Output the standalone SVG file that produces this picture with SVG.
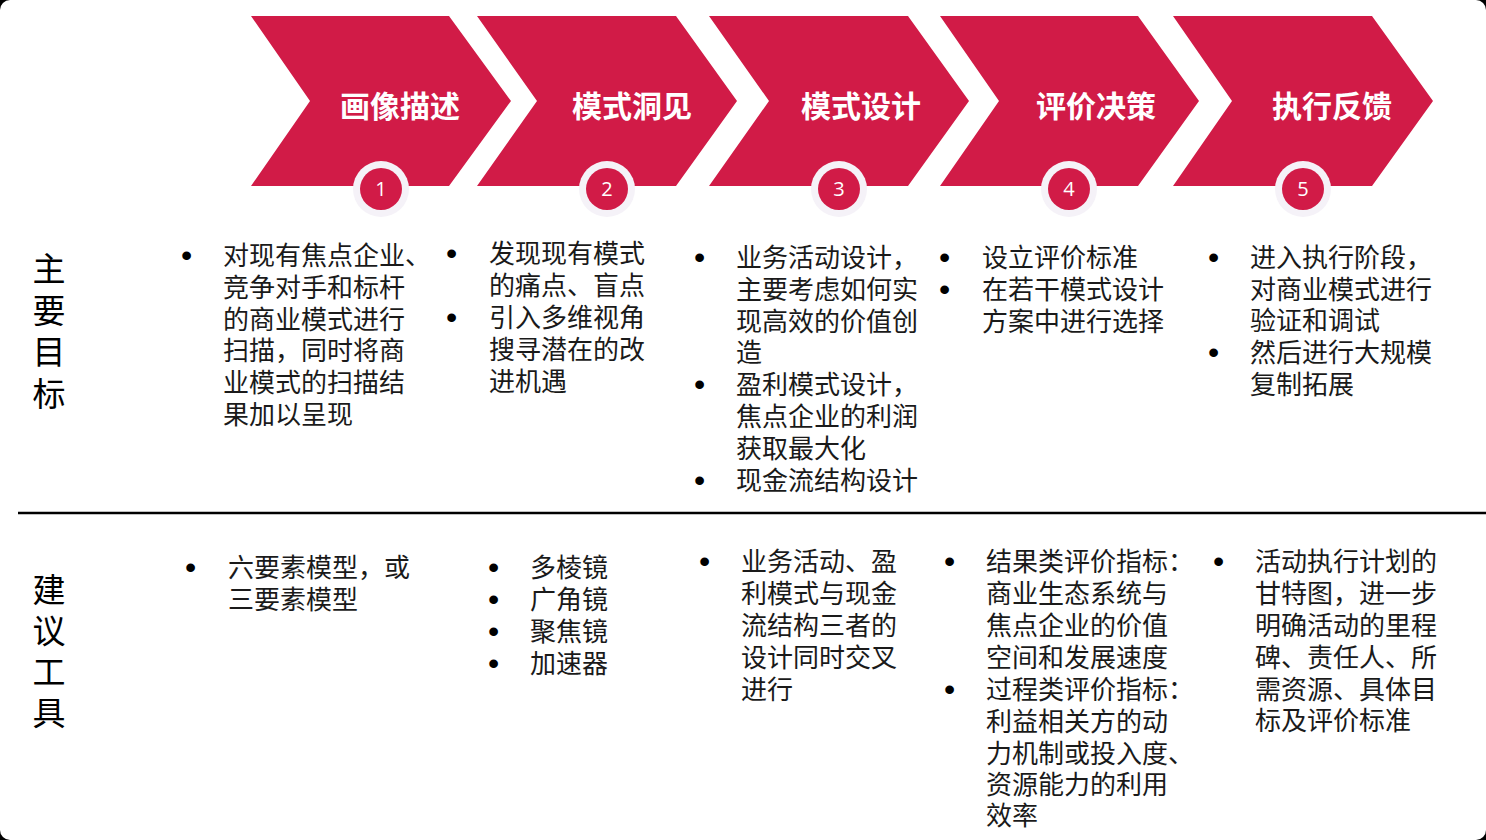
<svg xmlns="http://www.w3.org/2000/svg" width="1486" height="840" viewBox="0 0 1486 840">
<style>
.chev{fill:#D11B47}
.ring{fill:#F5F2F8}
.dot{fill:#D11B47}
.num{font-family:"Open Sans","Liberation Sans",sans-serif;font-size:20px;fill:#fff;text-anchor:middle}
.title{font-family:"Noto Sans CJK SC",sans-serif;font-size:30px;font-weight:bold;fill:#fff;text-anchor:middle}
.body{font-family:"Noto Sans CJK SC",sans-serif;font-size:26px;fill:#1a1a1a}
.bul{font-family:"Liberation Sans",sans-serif;font-size:32px;fill:#000}
.side{font-family:"Noto Sans CJK SC",sans-serif;font-size:33px;fill:#000;text-anchor:middle}
</style>
<rect x="0" y="0" width="1486" height="840" fill="#000"/>
<rect x="0" y="0" width="1486" height="840" rx="10" fill="#fff"/>

<g id="step1">
<polygon class="chev" points="251,16 449,16 511,101 449,186 251,186 310,101"/>
<text class="title" x="400" y="117">画像描述</text>
<circle class="ring" cx="381" cy="189" r="28"/><circle class="dot" cx="381" cy="189" r="21"/>
<text class="num" x="381" y="196">1</text>
</g>
<g id="step2">
<polygon class="chev" points="477,16 676,16 737,101 676,186 477,186 537,101"/>
<text class="title" x="632" y="117">模式洞见</text>
<circle class="ring" cx="607" cy="189" r="28"/><circle class="dot" cx="607" cy="189" r="21"/>
<text class="num" x="607" y="196">2</text>
</g>
<g id="step3">
<polygon class="chev" points="709,16 908,16 969,101 908,186 709,186 769,101"/>
<text class="title" x="861" y="117">模式设计</text>
<circle class="ring" cx="839" cy="189" r="28"/><circle class="dot" cx="839" cy="189" r="21"/>
<text class="num" x="839" y="196">3</text>
</g>
<g id="step4">
<polygon class="chev" points="940,16 1138,16 1199,101 1138,186 940,186 999,101"/>
<text class="title" x="1096" y="117">评价决策</text>
<circle class="ring" cx="1069" cy="189" r="28"/><circle class="dot" cx="1069" cy="189" r="21"/>
<text class="num" x="1069" y="196">4</text>
</g>
<g id="step5">
<polygon class="chev" points="1173,16 1372,16 1433,101 1372,186 1173,186 1232,101"/>
<text class="title" x="1332" y="117">执行反馈</text>
<circle class="ring" cx="1303" cy="189" r="28"/><circle class="dot" cx="1303" cy="189" r="21"/>
<text class="num" x="1303" y="196">5</text>
</g>

<g id="connectors">
<line x1="18" y1="513" x2="1486" y2="513" stroke="#000" stroke-width="2.5"/>
</g>

<g id="label-goal">
<text class="side" x="49" y="281">主</text>
<text class="side" x="49" y="323">要</text>
<text class="side" x="49" y="364">目</text>
<text class="side" x="49" y="406">标</text>
</g>
<g id="label-tools">
<text class="side" x="49" y="602">建</text>
<text class="side" x="49" y="643">议</text>
<text class="side" x="49" y="684">工</text>
<text class="side" x="49" y="725">具</text>
</g>

<g id="goal1">
<text class="bul" x="181" y="266">•</text>
<text class="body" x="223" y="265">对现有焦点企业、</text>
<text class="body" x="223" y="297">竞争对手和标杆</text>
<text class="body" x="223" y="329">的商业模式进行</text>
<text class="body" x="223" y="360">扫描，同时将商</text>
<text class="body" x="223" y="392">业模式的扫描结</text>
<text class="body" x="223" y="424">果加以呈现</text>
</g>
<g id="goal2">
<text class="bul" x="446" y="264">•</text>
<text class="body" x="489" y="263">发现现有模式</text>
<text class="body" x="489" y="295">的痛点、盲点</text>
<text class="bul" x="446" y="328">•</text>
<text class="body" x="489" y="327">引入多维视角</text>
<text class="body" x="489" y="359">搜寻潜在的改</text>
<text class="body" x="489" y="391">进机遇</text>
</g>
<g id="goal3">
<text class="bul" x="694" y="268">•</text>
<text class="body" x="736" y="267">业务活动设计，</text>
<text class="body" x="736" y="299">主要考虑如何实</text>
<text class="body" x="736" y="331">现高效的价值创</text>
<text class="body" x="736" y="362">造</text>
<text class="bul" x="694" y="395">•</text>
<text class="body" x="736" y="394">盈利模式设计，</text>
<text class="body" x="736" y="426">焦点企业的利润</text>
<text class="body" x="736" y="458">获取最大化</text>
<text class="bul" x="694" y="491">•</text>
<text class="body" x="736" y="490">现金流结构设计</text>
</g>
<g id="goal4">
<text class="bul" x="939" y="268">•</text>
<text class="body" x="982" y="267">设立评价标准</text>
<text class="bul" x="939" y="300">•</text>
<text class="body" x="982" y="299">在若干模式设计</text>
<text class="body" x="982" y="331">方案中进行选择</text>
</g>
<g id="goal5">
<text class="bul" x="1208" y="268">•</text>
<text class="body" x="1250" y="267">进入执行阶段，</text>
<text class="body" x="1250" y="299">对商业模式进行</text>
<text class="body" x="1250" y="330">验证和调试</text>
<text class="bul" x="1208" y="363">•</text>
<text class="body" x="1250" y="362">然后进行大规模</text>
<text class="body" x="1250" y="394">复制拓展</text>
</g>

<g id="tool1">
<text class="bul" x="185" y="578">•</text>
<text class="body" x="228" y="577">六要素模型，或</text>
<text class="body" x="228" y="609">三要素模型</text>
</g>
<g id="tool2">
<text class="bul" x="488" y="578">•</text>
<text class="body" x="530" y="577">多棱镜</text>
<text class="bul" x="488" y="610">•</text>
<text class="body" x="530" y="609">广角镜</text>
<text class="bul" x="488" y="642">•</text>
<text class="body" x="530" y="641">聚焦镜</text>
<text class="bul" x="488" y="674">•</text>
<text class="body" x="530" y="673">加速器</text>
</g>
<g id="tool3">
<text class="bul" x="699" y="572">•</text>
<text class="body" x="741" y="571">业务活动、盈</text>
<text class="body" x="741" y="603">利模式与现金</text>
<text class="body" x="741" y="635">流结构三者的</text>
<text class="body" x="741" y="667">设计同时交叉</text>
<text class="body" x="741" y="699">进行</text>
</g>
<g id="tool4">
<text class="bul" x="944" y="572">•</text>
<text class="body" x="986" y="571">结果类评价指标：</text>
<text class="body" x="986" y="603">商业生态系统与</text>
<text class="body" x="986" y="635">焦点企业的价值</text>
<text class="body" x="986" y="667">空间和发展速度</text>
<text class="bul" x="944" y="700">•</text>
<text class="body" x="986" y="699">过程类评价指标：</text>
<text class="body" x="986" y="731">利益相关方的动</text>
<text class="body" x="986" y="763">力机制或投入度、</text>
<text class="body" x="986" y="794">资源能力的利用</text>
<text class="body" x="986" y="825">效率</text>
</g>
<g id="tool5">
<text class="bul" x="1213" y="572">•</text>
<text class="body" x="1255" y="571">活动执行计划的</text>
<text class="body" x="1255" y="603">甘特图，进一步</text>
<text class="body" x="1255" y="635">明确活动的里程</text>
<text class="body" x="1255" y="667">碑、责任人、所</text>
<text class="body" x="1255" y="699">需资源、具体目</text>
<text class="body" x="1255" y="730">标及评价标准</text>
</g>
</svg>
